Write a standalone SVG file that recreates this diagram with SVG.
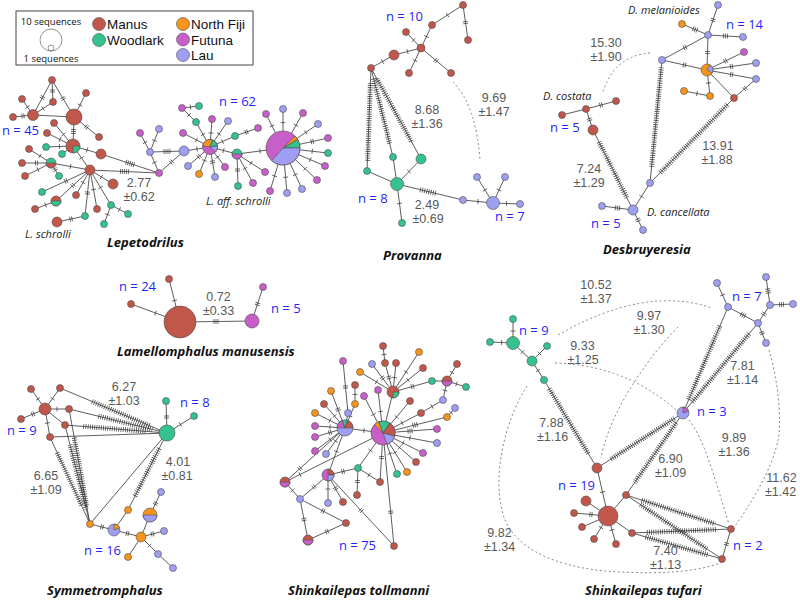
<svg xmlns="http://www.w3.org/2000/svg" width="800" height="602" viewBox="0 0 800 602">
<style>
.e{fill:none;stroke:#333;stroke-width:0.8}
.t1{marker-mid:url(#m1)}.t2{marker-mid:url(#m2)}.t3{marker-mid:url(#m3)}.t4{marker-mid:url(#m4)}.t5{marker-mid:url(#m5)}
.h{fill:none;stroke:#333;stroke-width:5;stroke-dasharray:0.7 1.5}
.d{fill:none;stroke:#888;stroke-width:1;stroke-dasharray:2 2.5}
circle,.p{stroke:#4d4d4d;stroke-width:0.6}
.ma{fill:#c0574a}.wo{fill:#35c38d}.nf{fill:#f7941d}.fu{fill:#c85fc8}.la{fill:#9e9ef3}
text{font-family:"Open Sans","DejaVu Sans",sans-serif}
.n{font-size:13px;fill:#1f1fff}
.v{font-family:"Liberation Sans",Arial,sans-serif;font-size:12.5px;fill:#595959;text-anchor:middle}
.sp{font-size:13px;font-weight:bold;font-style:italic;fill:#111}
.it{font-size:11px;font-style:italic;fill:#222}
.lg{font-family:"Liberation Sans",Arial,sans-serif;font-size:13.5px;fill:#111}
.ls{font-size:9.5px;fill:#111;text-anchor:middle}
</style>
<defs>
<marker id="m1" viewBox="-5 -5 10 10" markerWidth="10" markerHeight="10" markerUnits="userSpaceOnUse" orient="auto"><path d="M0 -2.5V2.5" stroke="#333" stroke-width="0.7"/></marker>
<marker id="m2" viewBox="-5 -5 10 10" markerWidth="10" markerHeight="10" markerUnits="userSpaceOnUse" orient="auto"><path d="M-1 -2.5V2.5M1 -2.5V2.5" stroke="#333" stroke-width="0.7"/></marker>
<marker id="m3" viewBox="-5 -5 10 10" markerWidth="10" markerHeight="10" markerUnits="userSpaceOnUse" orient="auto"><path d="M-2 -2.5V2.5M0 -2.5V2.5M2 -2.5V2.5" stroke="#333" stroke-width="0.7"/></marker>
<marker id="m4" viewBox="-5 -5 10 10" markerWidth="10" markerHeight="10" markerUnits="userSpaceOnUse" orient="auto"><path d="M-3 -2.5V2.5M-1 -2.5V2.5M1 -2.5V2.5M3 -2.5V2.5" stroke="#333" stroke-width="0.7"/></marker>
<marker id="m5" viewBox="-5 -5 10 10" markerWidth="10" markerHeight="10" markerUnits="userSpaceOnUse" orient="auto"><path d="M-4 -2.5V2.5M-2 -2.5V2.5M0 -2.5V2.5M2 -2.5V2.5M4 -2.5V2.5" stroke="#333" stroke-width="0.7"/></marker>
</defs>
<rect width="800" height="602" fill="#fff"/>
<g id="legend">
<rect x="16" y="11" width="237" height="54" fill="#fff" stroke="#444" stroke-width="1"/>
<text class="ls" x="51" y="25">10 sequences</text>
<circle cx="51" cy="40" r="11" fill="none"/>
<circle cx="51" cy="48" r="3" fill="none"/>
<text class="ls" x="51" y="62">1 sequences</text>
<circle class="ma" cx="99" cy="24" r="6.5"/><text class="lg" x="107" y="29">Manus</text>
<circle class="wo" cx="99" cy="40" r="6.5"/><text class="lg" x="107" y="45">Woodlark</text>
<circle class="nf" cx="183" cy="24" r="6.5"/><text class="lg" x="191" y="29">North Fiji</text>
<circle class="fu" cx="183" cy="39.5" r="6.5"/><text class="lg" x="191" y="44.5">Futuna</text>
<circle class="la" cx="183" cy="55" r="6.5"/><text class="lg" x="191" y="60">Lau</text>
</g>
<g id="connectors">
<path class="e t2" d="M52 80L42.5 97.5L33 115"/>
<path class="e t2" d="M52 80L63 98.5L74 117"/>
<path class="e t2" d="M52 80L52.5 91L53 102"/>
<path class="e t1" d="M53 102L43 108.5L33 115"/>
<path class="e" d="M33 115L74 117"/>
<path class="e t1" d="M22 99L27.5 107L33 115"/>
<path class="e t2" d="M13 117L23 116L33 115"/>
<path class="e t1" d="M86 93L80 105L74 117"/>
<path class="e t2" d="M74 117L86.5 127L99 137"/>
<path class="e t3" d="M74 117L73.5 131.5L73 146"/>
<path class="e t1" d="M54 123L63.5 134.5L73 146"/>
<path class="e t1" d="M47 133L60 139.5L73 146"/>
<path class="e t1" d="M73 146L87 150L101 154"/>
<path class="e t1" d="M29 149L40 156L51 163"/>
<path class="e t1" d="M46 147L59.5 146.5L73 146"/>
<path class="e t1" d="M62 154L67.5 150L73 146"/>
<path class="e t1" d="M73 146L81.5 158L90 170"/>
<path class="e t2" d="M22 163L36.5 163L51 163"/>
<path class="e t1" d="M51 163L70.5 166.5L90 170"/>
<path class="e t1" d="M25 176L38 169.5L51 163"/>
<path class="e t2" d="M59 176L55 169.5L51 163"/>
<path class="e t1" d="M90 170L101.5 177L113 184"/>
<path class="e t2" d="M90 170L66 181L42 192"/>
<path class="e t1" d="M90 170L83 182.5L76 195"/>
<path class="e t2" d="M90 170L73 185.5L56 201"/>
<path class="e t1" d="M35 209L45.5 205L56 201"/>
<path class="e t2" d="M57 222L71 219L85 216"/>
<path class="e t2" d="M85 216L87.5 193L90 170"/>
<path class="e t1" d="M97 209L93.5 189.5L90 170"/>
<path class="e t1" d="M90 170L100.5 187.5L111 205"/>
<path class="e t1" d="M111 205L119.5 209.5L128 214"/>
<path class="e t1" d="M111 205L107.5 214.5L104 224"/>
<path class="e t5" d="M101 154L130 163.5L159 173"/>
<path class="e t5" d="M90 170L124.5 171.5L159 173"/>
<path class="e t1" d="M159 173L154.5 162.5L150 152"/>
<path class="e t1" d="M150 152L145 142.5L140 133"/>
<path class="e t1" d="M150 152L154.5 140.5L159 129"/>
<path class="e t4" d="M150 152L167 151.5L184 151"/>
<path class="e t2" d="M159 173L171.5 162L184 151"/>
<path class="e t1" d="M184 151L197 149L210 147"/>
<path class="e t1" d="M183 133L196.5 140L210 147"/>
<path class="e t1" d="M182 108L189 115L196 122"/>
<path class="e t1" d="M182 108L190.5 107L199 106"/>
<path class="e t1" d="M196 122L203 134.5L210 147"/>
<path class="e t1" d="M212 119L211 133L210 147"/>
<path class="e t1" d="M228 121L219 134L210 147"/>
<path class="e t2" d="M188 166L199 156.5L210 147"/>
<path class="e t1" d="M199 174L204.5 160.5L210 147"/>
<path class="e t2" d="M215 177L212.5 162L210 147"/>
<path class="e t1" d="M225 167L217.5 157L210 147"/>
<path class="e t1" d="M210 147L223.5 150.5L237 154"/>
<path class="e t1" d="M235 136L222.5 141.5L210 147"/>
<path class="e t2" d="M235 136L246.5 132L258 128"/>
<path class="e t2" d="M237 154L237.5 170L238 186"/>
<path class="e t1" d="M237 154L245 168.5L253 183"/>
<path class="e t1" d="M237 154L251 163L265 172"/>
<path class="e t1" d="M237 154L260 151L283 148"/>
<path class="e t1" d="M283 148L271.95 125.9L266 114"/>
<path class="e t1" d="M283 148L283 122.65L283 109"/>
<path class="e t1" d="M283 148L296 125.25L303 113"/>
<path class="e t1" d="M283 148L305.75 132.4L318 124"/>
<path class="e t2" d="M283 148L312.25 141.5L328 138"/>
<path class="e t1" d="M283 148L312.25 151.25L328 153"/>
<path class="e t1" d="M283 148L310.3 159.7L325 166"/>
<path class="e t1" d="M283 148L305.1 168.8L317 180"/>
<path class="e t1" d="M283 148L295.35 174.65L302 189"/>
<path class="e t1" d="M283 148L285.6 177.25L287 193"/>
<path class="e t1" d="M283 148L274.55 175.95L270 191"/>
<path class="e t1" d="M371 68L382.5 61.5L394 55"/>
<path class="e t1" d="M394 55L407.5 51.5L421 48"/>
<path class="e t1" d="M421 48L426.5 36.5L432 25"/>
<path class="e t1" d="M432 25L447.5 15L463 5"/>
<path class="e t2" d="M463 5L465.5 22.5L468 40"/>
<path class="e t1" d="M421 48L413.5 40L406 32"/>
<path class="e t1" d="M421 48L415 60.5L409 73"/>
<path class="e t2" d="M421 48L436 60.5L451 73"/>
<path class="e" d="M371 68L367 171"/><path class="h" d="M370.4 83L367.6 162"/>
<path class="e" d="M371 68L393 157"/><path class="h" d="M373.6 78.7L389.7 143.7"/>
<path class="e" d="M371 68L421 159"/><path class="h" d="M377 78.9L412 142.6"/>
<path class="e" d="M367 171L397 184"/>
<path class="e" d="M393 157L397 184"/>
<path class="e t1" d="M421 159L409 171.5L397 184"/>
<path class="e t1" d="M397 184L399.5 203.5L402 223"/>
<path class="e" d="M397 184L463 200"/><path class="h" d="M420.1 189.6L436.6 193.6"/>
<path class="e t1" d="M463 200L478 201.5L493 203"/>
<path class="e t1" d="M493 203L485 190L477 177"/>
<path class="e t1" d="M493 203L499 190L505 177"/>
<path class="e t1" d="M493 203L506.5 203.5L520 204"/>
<path class="d" d="M453 82Q476 105 480 160"/>
<path class="e" d="M562 115L586 109"/>
<path class="e t2" d="M586 109L601 105L616 101"/>
<path class="e t2" d="M586 109L589.5 119.5L593 130"/>
<path class="e" d="M593 130L633 210"/><path class="h" d="M599 142L627 198"/>
<path class="e t1" d="M650 183L641.5 196.5L633 210"/>
<path class="e t3" d="M633 210L617.5 208L602 206"/>
<path class="e t2" d="M633 210L638 220L643 230"/>
<path class="e" d="M662 60L650 183"/><path class="h" d="M661.3 67.4L651.6 167"/>
<path class="e" d="M734 98L650 183"/><path class="h" d="M727.3 104.8L660.1 172.8"/>
<path class="e t2" d="M662 60L685 47.5L708 35"/>
<path class="e t3" d="M682 24L695 29.5L708 35"/>
<path class="e t2" d="M718 5L713 20L708 35"/>
<path class="e t3" d="M708 35L725.5 36L743 37"/>
<path class="e t2" d="M708 35L707.5 52.5L707 70"/>
<path class="e t2" d="M662 60L684.5 65L707 70"/>
<path class="e t2" d="M707 70L725.5 61L744 52"/>
<path class="e t2" d="M707 70L731.5 66.5L756 63"/>
<path class="e t2" d="M707 70L731.5 74.5L756 79"/>
<path class="e t1" d="M707 70L708.5 83L710 96"/>
<path class="e t1" d="M684 91L697 93.5L710 96"/>
<path class="e" d="M707 70L734 98"/>
<path class="e t2" d="M756 79L745 88.5L734 98"/>
<path class="d" d="M650 53Q614 56 603 92"/>
<path class="e t1" d="M131 304L155.5 313L180 322"/>
<path class="e t1" d="M169 279L174.5 300.5L180 322"/>
<path class="e t3" d="M180 322L216 321.5L252 321"/>
<path class="e t2" d="M252 321L257.5 304L263 287"/>
<path class="e t1" d="M31 389L38 399L45 409"/>
<path class="e t1" d="M60 388L52.5 398.5L45 409"/>
<path class="e t2" d="M21 419L33 414L45 409"/>
<path class="e t1" d="M45 409L57 409L69 409"/>
<path class="e" d="M45 409L65 425"/>
<path class="e t1" d="M45 409L47.5 423L50 437"/>
<path class="e" d="M60 388L167 433"/><path class="h" d="M92.1 401.5L150.95 426.25"/>
<path class="e" d="M69 409L167 433"/><path class="h" d="M98.4 416.2L152.3 429.4"/>
<path class="e" d="M65 425L167 433"/><path class="h" d="M83.4 426.4L146.6 431.4"/>
<path class="e" d="M50 437L167 433"/>
<path class="e" d="M50 437L90 524"/><path class="h" d="M57.2 452.7L82 506.6"/>
<path class="e" d="M69 409L90 524"/><path class="h" d="M74.25 437.75L86.85 506.75"/>
<path class="e" d="M65 425L90 524"/><path class="h" d="M70 444.8L86.25 509.15"/>
<path class="e" d="M167 433L90 524"/>
<path class="e" d="M167 433L128 510"/><path class="h" d="M159.2 448.4L135 496.1"/>
<path class="e t1" d="M167 433L180.5 424.5L194 416"/>
<path class="e t2" d="M167 433L166.5 417L166 401"/>
<path class="e t2" d="M90 524L102 527L114 530"/>
<path class="e" d="M128 510L114 530"/>
<path class="e t2" d="M114 530L127.5 533.5L141 537"/>
<path class="e" d="M141 537L150 515"/>
<path class="e t2" d="M150 515L155.5 503.5L161 492"/>
<path class="e t2" d="M141 537L152.5 534L164 531"/>
<path class="e" d="M141 537L128 557"/>
<path class="e t1" d="M141 537L149.5 545.5L158 554"/>
<path class="e" d="M158 554L173 568"/>
<path class="e t1" d="M383 433L364 430.5L345 428"/>
<path class="e" d="M383 433L393 392"/>
<path class="e t1" d="M383 433L396.5 417L410 401"/>
<path class="e t1" d="M383 433L402 423L421 413"/>
<path class="e t3" d="M383 433L410 431L437 429"/>
<path class="e t1" d="M383 433L410 438L437 443"/>
<path class="e t1" d="M383 433L403 443L423 453"/>
<path class="e t1" d="M383 433L399.5 447.5L416 462"/>
<path class="e t1" d="M383 433L395 452.5L407 472"/>
<path class="e t1" d="M383 433L390 453.5L397 474"/>
<path class="e t2" d="M383 433L381.5 457.5L380 482"/>
<path class="e t2" d="M383 433L390.7 512.1L394 546"/>
<path class="e t1" d="M383 433L370.5 450.5L358 468"/>
<path class="e t1" d="M383 433L300 474.5L285 482"/>
<path class="e t2" d="M328 475L343 471.5L358 468"/>
<path class="e t1" d="M328 475L336.5 451.5L345 428"/>
<path class="e t2" d="M358 468L357.5 481.5L357 495"/>
<path class="e t1" d="M358 468L369 475L380 482"/>
<path class="e t2" d="M328 475L361 510.5L394 546"/>
<path class="e t1" d="M328 475L328 489L328 503"/>
<path class="e t2" d="M328 475L335.5 488.5L343 502"/>
<path class="e t2" d="M328 475L314 487L300 499"/>
<path class="e t2" d="M285 482L300 468.5L345 428"/>
<path class="e t1" d="M300 499L292.5 490.5L285 482"/>
<path class="e t2" d="M300 499L323 511L346 523"/>
<path class="e t2" d="M300 499L304 519.5L308 540"/>
<path class="e t2" d="M308 540L327 531.5L346 523"/>
<path class="e t1" d="M345 428L334.5 416L324 404"/>
<path class="e t1" d="M345 428L330 420.5L315 413"/>
<path class="e t1" d="M345 428L350 416L355 404"/>
<path class="e" d="M345 428L348 413"/>
<path class="e t1" d="M345 428L330 427L315 426"/>
<path class="e t2" d="M345 428L330 432.5L315 437"/>
<path class="e t1" d="M345 428L330 439.5L315 451"/>
<path class="e t1" d="M345 428L335.5 441L326 454"/>
<path class="e t2" d="M343 361L345.5 387L348 413"/>
<path class="e t2" d="M345 428L338 409.5L331 391"/>
<path class="e t1" d="M355 385L355 394.5L355 404"/>
<path class="e t1" d="M364 396L373.5 414.5L383 433"/>
<path class="e t1" d="M378 390L380.5 411.5L383 433"/>
<path class="e t1" d="M383 346L384 354.5L385 363"/>
<path class="e t2" d="M385 363L389 377.5L393 392"/>
<path class="e t1" d="M396 363L394.5 377.5L393 392"/>
<path class="e t2" d="M372 364L382.5 378L393 392"/>
<path class="e t1" d="M360 372L376.5 382L393 392"/>
<path class="e t1" d="M419 352L406 372L393 392"/>
<path class="e t1" d="M423 368L408 380L393 392"/>
<path class="e t2" d="M432 381L412.5 386.5L393 392"/>
<path class="e" d="M447 381L432 381"/>
<path class="e t1" d="M447 381L452 372.5L457 364"/>
<path class="e t1" d="M447 381L456.5 384L466 387"/>
<path class="e t1" d="M447 381L445 390.5L443 400"/>
<path class="e t1" d="M443 400L432 406.5L421 413"/>
<path class="e t1" d="M455 408L451 412.5L447 417"/>
<path class="e t3" d="M447 417L415 425L383 433"/>
<path class="e t1" d="M513 319L513 331L513 343"/>
<path class="e t1" d="M490 342L501.5 342.5L513 343"/>
<path class="e t1" d="M513 343L522.5 352L532 361"/>
<path class="e t1" d="M547 346L539.5 353.5L532 361"/>
<path class="e t1" d="M532 361L538 370.5L544 380"/>
<path class="e" d="M544 380L597 468"/><path class="h" d="M549.3 388.8L589 454.8"/>
<path class="e t1" d="M597 468L602.5 492L608 516"/>
<path class="e" d="M608 516L586 501"/>
<path class="e t2" d="M608 516L591 514.5L574 513"/>
<path class="e" d="M608 516L582 527"/>
<path class="e t1" d="M608 516L601 527.5L594 539"/>
<path class="e t1" d="M608 516L612 530L616 544"/>
<path class="e" d="M608 516L632 533"/>
<path class="e" d="M608 516L626 495"/>
<path class="e" d="M683 413L597 468"/><path class="h" d="M674.4 418.5L609.9 459.75"/>
<path class="e" d="M683 413L626 495"/><path class="h" d="M676.2 422.8L634.6 482.7"/>
<path class="e" d="M626 495L731 529"/><path class="h" d="M641.75 500.1L715.25 523.9"/>
<path class="e" d="M626 495L722 559"/><path class="h" d="M640.4 504.6L707.6 549.4"/>
<path class="e" d="M632 533L731 529"/><path class="h" d="M646.85 532.4L716.15 529.6"/>
<path class="e" d="M632 533L722 559"/><path class="h" d="M645.5 536.9L708.5 555.1"/>
<path class="e t2" d="M731 529L726.5 544L722 559"/>
<path class="e t1" d="M717 283L722.5 295L728 307"/>
<path class="e t3" d="M728 307L743 315L758 323"/>
<path class="e t2" d="M758 323L764 314L770 305"/>
<path class="e t3" d="M770 305L768 291L766 277"/>
<path class="e t3" d="M770 305L781.5 304.5L793 304"/>
<path class="e t2" d="M758 323L762 333L766 343"/>
<path class="e" d="M728 307L683 413"/><path class="h" d="M719.9 326.1L688.4 400.3"/>
<path class="e" d="M758 323L683 413"/><path class="h" d="M749 333.8L692 402.2"/>
<path class="d" d="M558 335Q645 285 712 308"/>
<path class="d" d="M678 327C650 355 610 410 601 458"/>
<path class="d" d="M555 363Q625 365 676 410"/>
<path class="d" d="M527 386C505 420 490 480 505 520C520 555 570 570 620 572C660 574 700 572 722 562"/>
<path class="d" d="M769 350C778 380 782 420 778 440C772 470 750 505 735 526"/>
<path class="d" d="M689 420C705 440 715 480 729 524"/>
</g>
<g id="nodes">
<g id="lep1"><circle class="ma" cx="74" cy="117" r="8"/></g>
<g id="lep2"><circle class="ma" cx="52" cy="80" r="3.5"/></g>
<g id="lep3"><circle class="ma" cx="53" cy="102" r="3.5"/></g>
<g id="lep4"><circle class="ma" cx="33" cy="115" r="5.5"/></g>
<g id="lep5"><circle class="ma" cx="22" cy="99" r="3.5"/></g>
<g id="lep6"><circle class="ma" cx="13" cy="117" r="3.5"/></g>
<g id="lep7"><circle class="ma" cx="86" cy="93" r="3.5"/></g>
<g id="lep8"><circle class="ma" cx="99" cy="137" r="3.5"/></g>
<g id="lep9"><circle class="ma" cx="54" cy="123" r="3.5"/></g>
<g id="lep10"><circle class="ma" cx="47" cy="133" r="3.5"/></g>
<g id="lep11"><circle class="ma" cx="73" cy="146" r="7"/><path class="p wo" d="M73 146L80 146A7 7 0 0 1 73 153Z"/></g>
<g id="lep12"><circle class="ma" cx="101" cy="154" r="5"/></g>
<g id="lep13"><circle class="ma" cx="29" cy="149" r="3.5"/></g>
<g id="lep14"><circle class="wo" cx="46" cy="147" r="3.5"/></g>
<g id="lep15"><circle class="wo" cx="62" cy="154" r="3.5"/></g>
<g id="lep16"><circle class="ma" cx="22" cy="163" r="3.5"/></g>
<g id="lep17"><circle class="wo" cx="51" cy="163" r="5"/><path class="p ma" d="M46 163A5 5 0 0 0 56 163Z"/></g>
<g id="lep18"><circle class="ma" cx="25" cy="176" r="3.5"/></g>
<g id="lep19"><circle class="wo" cx="59" cy="176" r="3.5"/></g>
<g id="lep20"><circle class="ma" cx="90" cy="170" r="5"/></g>
<g id="lep21"><circle class="ma" cx="113" cy="184" r="5"/></g>
<g id="lep22"><circle class="wo" cx="42" cy="192" r="3.5"/></g>
<g id="lep23"><circle class="ma" cx="76" cy="195" r="3.5"/></g>
<g id="lep25"><circle class="ma" cx="56" cy="201" r="5"/><path class="p wo" d="M51 201A5 5 0 0 0 61 201Z"/></g>
<g id="lep26"><circle class="ma" cx="35" cy="209" r="3.5"/></g>
<g id="lep27"><circle class="ma" cx="57" cy="222" r="5"/></g>
<g id="lep28"><circle class="wo" cx="85" cy="216" r="3.5"/></g>
<g id="lep29"><circle class="ma" cx="97" cy="209" r="3.5"/></g>
<g id="lep30"><circle class="wo" cx="111" cy="205" r="3.5"/></g>
<g id="lep31"><circle class="wo" cx="128" cy="214" r="3.5"/></g>
<g id="lep32"><circle class="wo" cx="104" cy="224" r="3.5"/></g>
<g id="lepr1"><circle class="fu" cx="159" cy="173" r="3.5"/></g>
<g id="lepr2"><circle class="la" cx="150" cy="152" r="3.5"/></g>
<g id="lepr3"><circle class="fu" cx="140" cy="133" r="3.5"/></g>
<g id="lepr4"><circle class="la" cx="159" cy="129" r="3.5"/></g>
<g id="lepr5"><circle class="la" cx="184" cy="151" r="5"/></g>
<g id="lepr6"><circle class="fu" cx="183" cy="133" r="3.5"/></g>
<g id="lepr7"><circle class="fu" cx="182" cy="108" r="3.5"/></g>
<g id="lepr8"><circle class="wo" cx="199" cy="106" r="3.5"/></g>
<g id="lepr9"><circle class="wo" cx="196" cy="122" r="3.5"/></g>
<g id="lepr10"><circle class="la" cx="188" cy="166" r="3.5"/></g>
<g id="lepr11"><circle class="nf" cx="199" cy="174" r="3.5"/></g>
<g id="lepr12"><circle class="fu" cx="212" cy="119" r="3.5"/></g>
<g id="lepr13"><circle class="la" cx="228" cy="121" r="3.5"/></g>
<g id="lepr14"><circle class="wo" cx="235" cy="136" r="3.5"/></g>
<g id="lepr15"><circle class="fu" cx="258" cy="128" r="3.5"/></g>
<g id="lepr16"><circle class="la" cx="215" cy="177" r="3.5"/></g>
<g id="lepr17"><circle class="fu" cx="225" cy="167" r="3.5"/></g>
<g id="lepr18"><circle class="wo" cx="238" cy="186" r="3.5"/></g>
<g id="lepr19"><circle class="fu" cx="253" cy="183" r="3.5"/></g>
<g id="lepr20"><circle class="fu" cx="265" cy="172" r="3.5"/></g>
<g id="lepM1"><circle class="fu" cx="210" cy="147" r="7.5"/><path class="p nf" d="M210 147L202.61 145.7A7.5 7.5 0 0 1 212.57 139.95Z"/><path class="p wo" d="M210 147L212.57 139.95A7.5 7.5 0 0 1 217.39 145.7Z"/><path class="p la" d="M210 147L217.39 145.7A7.5 7.5 0 0 1 215.75 151.82Z"/></g>
<g id="lepM2"><circle class="wo" cx="237" cy="154" r="5"/><path class="p fu" d="M232 154A5 5 0 0 0 242 154Z"/></g>
<g id="lepS1"><circle class="fu" cx="266" cy="114" r="3.5"/></g>
<g id="lepS2"><circle class="la" cx="283" cy="109" r="3.5"/></g>
<g id="lepS3"><circle class="fu" cx="303" cy="113" r="3.5"/></g>
<g id="lepS4"><circle class="la" cx="318" cy="124" r="3.5"/></g>
<g id="lepS5"><circle class="fu" cx="328" cy="138" r="3.5"/></g>
<g id="lepS6"><circle class="wo" cx="328" cy="153" r="3.5"/></g>
<g id="lepS7"><circle class="fu" cx="325" cy="166" r="3.5"/></g>
<g id="lepS8"><circle class="fu" cx="317" cy="180" r="3.5"/></g>
<g id="lepS9"><circle class="la" cx="302" cy="189" r="3.5"/></g>
<g id="lepS10"><circle class="la" cx="287" cy="193" r="3.5"/></g>
<g id="lepS11"><circle class="fu" cx="270" cy="191" r="3.5"/></g>
<g id="lepM3"><circle class="fu" cx="283" cy="148" r="17"/><path class="p nf" d="M283 148L295.02 135.98A17 17 0 0 1 297.72 139.5Z"/><path class="p wo" d="M283 148L297.72 139.5A17 17 0 0 1 300 148Z"/><path class="p la" d="M283 148L300 148A17 17 0 0 1 271.63 160.63Z"/></g>
<g id="pro1"><circle class="ma" cx="394" cy="55" r="5"/></g>
<g id="pro2"><circle class="ma" cx="371" cy="68" r="3.5"/></g>
<g id="pro3"><circle class="ma" cx="421" cy="48" r="4"/></g>
<g id="pro4"><circle class="ma" cx="432" cy="25" r="3.5"/></g>
<g id="pro5"><circle class="ma" cx="463" cy="5" r="3.5"/></g>
<g id="pro6"><circle class="ma" cx="468" cy="40" r="3.5"/></g>
<g id="pro7"><circle class="ma" cx="406" cy="32" r="3.5"/></g>
<g id="pro8"><circle class="ma" cx="409" cy="73" r="3.5"/></g>
<g id="pro9"><circle class="ma" cx="451" cy="73" r="3.5"/></g>
<g id="pro10"><circle class="wo" cx="367" cy="171" r="3.5"/></g>
<g id="pro11"><circle class="wo" cx="393" cy="157" r="3.5"/></g>
<g id="pro12"><circle class="wo" cx="421" cy="159" r="5"/></g>
<g id="pro13"><circle class="wo" cx="397" cy="184" r="6.5"/></g>
<g id="pro14"><circle class="wo" cx="402" cy="223" r="3.5"/></g>
<g id="pro15"><circle class="la" cx="463" cy="200" r="3.5"/></g>
<g id="pro16"><circle class="la" cx="493" cy="203" r="6.5"/></g>
<g id="pro17"><circle class="la" cx="477" cy="177" r="3.5"/></g>
<g id="pro18"><circle class="la" cx="505" cy="177" r="3.5"/></g>
<g id="pro19"><circle class="la" cx="520" cy="204" r="3.5"/></g>
<g id="des1"><circle class="ma" cx="562" cy="115" r="3.5"/></g>
<g id="des2"><circle class="ma" cx="586" cy="109" r="3.5"/></g>
<g id="des3"><circle class="ma" cx="616" cy="101" r="3.5"/></g>
<g id="des4"><circle class="ma" cx="593" cy="130" r="5"/></g>
<g id="des5"><circle class="la" cx="650" cy="183" r="3.5"/></g>
<g id="des6"><circle class="la" cx="633" cy="210" r="5"/></g>
<g id="des7"><circle class="la" cx="602" cy="206" r="3.5"/></g>
<g id="des8"><circle class="la" cx="643" cy="230" r="3.5"/></g>
<g id="des9"><circle class="la" cx="662" cy="60" r="3.5"/></g>
<g id="des10"><circle class="la" cx="718" cy="5" r="3.5"/></g>
<g id="des11"><circle class="nf" cx="682" cy="24" r="3.5"/></g>
<g id="des12"><circle class="la" cx="708" cy="35" r="3.5"/></g>
<g id="des13"><circle class="la" cx="743" cy="37" r="3.5"/></g>
<g id="des14"><circle class="fu" cx="744" cy="52" r="3.5"/></g>
<g id="des15"><circle class="la" cx="756" cy="63" r="3.5"/></g>
<g id="des16"><circle class="la" cx="756" cy="79" r="3.5"/></g>
<g id="des17"><circle class="nf" cx="707" cy="70" r="6"/><path class="p la" d="M707 70L710 64.8A6 6 0 0 1 712.2 73Z"/></g>
<g id="des18"><circle class="nf" cx="684" cy="91" r="3.5"/></g>
<g id="des19"><circle class="nf" cx="710" cy="96" r="3.5"/></g>
<g id="des20"><circle class="ma" cx="734" cy="98" r="3.5"/></g>
<g id="lam1"><circle class="ma" cx="169" cy="279" r="3.5"/></g>
<g id="lam2"><circle class="ma" cx="131" cy="304" r="3.5"/></g>
<g id="lam3"><circle class="ma" cx="180" cy="322" r="16"/></g>
<g id="lam4"><circle class="fu" cx="252" cy="321" r="7"/></g>
<g id="lam5"><circle class="fu" cx="263" cy="287" r="3.5"/></g>
<g id="sym1"><circle class="ma" cx="31" cy="389" r="3.5"/></g>
<g id="sym2"><circle class="ma" cx="60" cy="388" r="3.5"/></g>
<g id="sym3"><circle class="ma" cx="45" cy="409" r="6"/></g>
<g id="sym4"><circle class="ma" cx="21" cy="419" r="3.5"/></g>
<g id="sym5"><circle class="ma" cx="69" cy="409" r="3.5"/></g>
<g id="sym6"><circle class="ma" cx="65" cy="425" r="3.5"/></g>
<g id="sym7"><circle class="ma" cx="50" cy="437" r="3.5"/></g>
<g id="sym8"><circle class="wo" cx="167" cy="433" r="8"/></g>
<g id="sym9"><circle class="wo" cx="194" cy="416" r="3.5"/></g>
<g id="sym10"><circle class="wo" cx="166" cy="401" r="3.5"/></g>
<g id="sym11"><circle class="nf" cx="90" cy="524" r="3.5"/></g>
<g id="sym12"><circle class="nf" cx="128" cy="510" r="3.5"/></g>
<g id="sym13"><circle class="la" cx="114" cy="530" r="6"/><path class="p nf" d="M114 530L114 524A6 6 0 0 1 119.64 527.95Z"/></g>
<g id="sym14"><circle class="nf" cx="150" cy="515" r="7"/><path class="p la" d="M143 515A7 7 0 0 0 157 515Z"/></g>
<g id="sym15"><circle class="la" cx="161" cy="492" r="3.5"/></g>
<g id="sym16"><circle class="nf" cx="141" cy="537" r="5"/></g>
<g id="sym17"><circle class="la" cx="164" cy="531" r="3.5"/></g>
<g id="sym18"><circle class="nf" cx="128" cy="557" r="3.5"/></g>
<g id="sym19"><circle class="la" cx="158" cy="554" r="3.5"/></g>
<g id="sym20"><circle class="la" cx="173" cy="568" r="3.5"/></g>
<g id="tol1"><circle class="ma" cx="383" cy="346" r="3.5"/></g>
<g id="tol2"><circle class="fu" cx="343" cy="361" r="3.5"/></g>
<g id="tol3"><circle class="la" cx="372" cy="364" r="3.5"/></g>
<g id="tol4"><circle class="ma" cx="385" cy="363" r="3.5"/></g>
<g id="tol5"><circle class="ma" cx="396" cy="363" r="3.5"/></g>
<g id="tol6"><circle class="nf" cx="360" cy="372" r="3.5"/></g>
<g id="tol7"><circle class="ma" cx="355" cy="385" r="3.5"/></g>
<g id="tol8"><circle class="fu" cx="378" cy="390" r="3.5"/></g>
<g id="tol9"><circle class="ma" cx="393" cy="392" r="6"/><path class="p wo" d="M393 392L399 392A6 6 0 0 1 393 398Z"/></g>
<g id="tol10"><circle class="nf" cx="331" cy="391" r="3.5"/></g>
<g id="tol11"><circle class="fu" cx="364" cy="396" r="3.5"/></g>
<g id="tol12"><circle class="ma" cx="324" cy="404" r="3.5"/></g>
<g id="tol13"><circle class="nf" cx="315" cy="413" r="3.5"/></g>
<g id="tol14"><circle class="nf" cx="355" cy="404" r="3.5"/></g>
<g id="tol15"><circle class="la" cx="348" cy="413" r="3.5"/></g>
<g id="tol16"><circle class="la" cx="345" cy="428" r="8"/><path class="p fu" d="M345 428L337 428A8 8 0 0 1 342.26 420.48Z"/><path class="p wo" d="M345 428L342.26 420.48A8 8 0 0 1 347.74 420.48Z"/><path class="p ma" d="M345 428L347.74 420.48A8 8 0 0 1 353 428Z"/></g>
<g id="tol17"><circle class="fu" cx="315" cy="426" r="3.5"/></g>
<g id="tol18"><circle class="fu" cx="315" cy="437" r="3.5"/></g>
<g id="tol19"><circle class="fu" cx="315" cy="451" r="3.5"/></g>
<g id="tol20"><circle class="la" cx="326" cy="454" r="3.5"/></g>
<g id="tol21"><circle class="fu" cx="383" cy="433" r="12"/><path class="p nf" d="M383 433L374.51 424.51A12 12 0 0 1 378.9 421.72Z"/><path class="p wo" d="M383 433L378.9 421.72A12 12 0 0 1 389.88 423.17Z"/><path class="p ma" d="M383 433L389.88 423.17A12 12 0 0 1 394.59 436.11Z"/><path class="p la" d="M383 433L394.59 436.11A12 12 0 0 1 387.1 444.28Z"/></g>
<g id="tol22"><circle class="wo" cx="397" cy="474" r="3.5"/></g>
<g id="tol23"><circle class="wo" cx="358" cy="468" r="3.5"/></g>
<g id="tol24"><circle class="fu" cx="328" cy="475" r="6"/><path class="p ma" d="M328 475L328 469A6 6 0 0 1 334 475Z"/><path class="p la" d="M328 475L334 475A6 6 0 0 1 328 481Z"/></g>
<g id="tol25"><circle class="ma" cx="380" cy="482" r="3.5"/></g>
<g id="tol26"><circle class="ma" cx="357" cy="495" r="3.5"/></g>
<g id="tol27"><circle class="la" cx="328" cy="503" r="3.5"/></g>
<g id="tol28"><circle class="ma" cx="343" cy="502" r="3.5"/></g>
<g id="tol29"><circle class="ma" cx="285" cy="482" r="5"/><path class="p fu" d="M280 482A5 5 0 0 0 290 482Z"/></g>
<g id="tol30"><circle class="la" cx="300" cy="499" r="3.5"/></g>
<g id="tol31"><circle class="ma" cx="346" cy="523" r="3.5"/></g>
<g id="tol32"><circle class="ma" cx="308" cy="540" r="5"/><path class="p fu" d="M303 540A5 5 0 0 0 313 540Z"/></g>
<g id="tol33"><circle class="ma" cx="394" cy="546" r="3.5"/></g>
<g id="tol34"><circle class="ma" cx="410" cy="401" r="3.5"/></g>
<g id="tol35"><circle class="la" cx="443" cy="400" r="3.5"/></g>
<g id="tol36"><circle class="la" cx="455" cy="408" r="3.5"/></g>
<g id="tol37"><circle class="ma" cx="421" cy="413" r="3.5"/></g>
<g id="tol38"><circle class="nf" cx="447" cy="417" r="3.5"/></g>
<g id="tol39"><circle class="fu" cx="437" cy="429" r="3.5"/></g>
<g id="tol40"><circle class="la" cx="437" cy="443" r="3.5"/></g>
<g id="tol41"><circle class="fu" cx="423" cy="453" r="3.5"/></g>
<g id="tol42"><circle class="ma" cx="416" cy="462" r="3.5"/></g>
<g id="tol43"><circle class="nf" cx="407" cy="472" r="3.5"/></g>
<g id="tol44"><circle class="nf" cx="419" cy="352" r="3.5"/></g>
<g id="tol45"><circle class="ma" cx="457" cy="364" r="3.5"/></g>
<g id="tol46"><circle class="ma" cx="423" cy="368" r="3.5"/></g>
<g id="tol47"><circle class="wo" cx="432" cy="381" r="3.5"/></g>
<g id="tol48"><circle class="ma" cx="447" cy="381" r="5"/><path class="p fu" d="M442 381A5 5 0 0 0 452 381Z"/></g>
<g id="tol49"><circle class="wo" cx="466" cy="387" r="3.5"/></g>
<g id="tuf1"><circle class="wo" cx="513" cy="319" r="3.5"/></g>
<g id="tuf2"><circle class="wo" cx="490" cy="342" r="3.5"/></g>
<g id="tuf3"><circle class="wo" cx="513" cy="343" r="6.5"/></g>
<g id="tuf4"><circle class="wo" cx="547" cy="346" r="3.5"/></g>
<g id="tuf5"><circle class="wo" cx="532" cy="361" r="5"/></g>
<g id="tuf6"><circle class="wo" cx="544" cy="380" r="3.5"/></g>
<g id="tuf7"><circle class="ma" cx="597" cy="468" r="5"/></g>
<g id="tuf8"><circle class="ma" cx="586" cy="501" r="5"/></g>
<g id="tuf9"><circle class="ma" cx="574" cy="513" r="3.5"/></g>
<g id="tuf10"><circle class="ma" cx="582" cy="527" r="3.5"/></g>
<g id="tuf11"><circle class="ma" cx="594" cy="539" r="3.5"/></g>
<g id="tuf12"><circle class="ma" cx="608" cy="516" r="10"/></g>
<g id="tuf13"><circle class="ma" cx="626" cy="495" r="3.5"/></g>
<g id="tuf14"><circle class="ma" cx="632" cy="533" r="3.5"/></g>
<g id="tuf15"><circle class="ma" cx="616" cy="544" r="3.5"/></g>
<g id="tuf16"><circle class="ma" cx="731" cy="529" r="3.5"/></g>
<g id="tuf17"><circle class="ma" cx="722" cy="559" r="3.5"/></g>
<g id="tuf18"><circle class="la" cx="683" cy="413" r="6"/><path class="p fu" d="M683 413L683 407A6 6 0 0 1 688.64 410.95Z"/></g>
<g id="tuf19"><circle class="la" cx="717" cy="283" r="3.5"/></g>
<g id="tuf20"><circle class="la" cx="728" cy="307" r="3.5"/></g>
<g id="tuf21"><circle class="la" cx="766" cy="277" r="3.5"/></g>
<g id="tuf22"><circle class="la" cx="770" cy="305" r="3.5"/></g>
<g id="tuf23"><circle class="la" cx="793" cy="304" r="3.5"/></g>
<g id="tuf24"><circle class="la" cx="758" cy="323" r="3.5"/></g>
<g id="tuf25"><circle class="la" cx="766" cy="343" r="3.5"/></g>
</g>
<g id="labels">
<text class="n" x="2" y="135">n = 45</text>
<text class="n" x="219" y="106">n = 62</text>
<text class="v"><tspan x="139" y="187">2.77</tspan><tspan x="139" y="201">±0.62</tspan></text>
<text class="it" x="25" y="238">L. schrolli</text>
<text class="it" x="206" y="205">L. aff. schrolli</text>
<text class="sp" x="107" y="247">Lepetodrilus</text>
<text class="n" x="386" y="21">n = 10</text>
<text class="v"><tspan x="427" y="114">8.68</tspan><tspan x="427" y="128">±1.36</tspan></text>
<text class="v"><tspan x="494" y="102">9.69</tspan><tspan x="494" y="116">±1.47</tspan></text>
<text class="v"><tspan x="427" y="209">2.49</tspan><tspan x="428" y="223">±0.69</tspan></text>
<text class="n" x="358" y="203">n = 8</text>
<text class="n" x="495" y="221">n = 7</text>
<text class="sp" x="383" y="260">Provanna</text>
<text class="it" x="628" y="14">D. melanioides</text>
<text class="n" x="726" y="29">n = 14</text>
<text class="v"><tspan x="606" y="47">15.30</tspan><tspan x="606" y="61">±1.90</tspan></text>
<text class="it" x="543" y="100">D. costata</text>
<text class="n" x="550" y="132">n = 5</text>
<text class="v"><tspan x="589" y="173">7.24</tspan><tspan x="589" y="187">±1.29</tspan></text>
<text class="v"><tspan x="718" y="150">13.91</tspan><tspan x="717" y="164">±1.88</tspan></text>
<text class="it" x="647" y="216">D. cancellata</text>
<text class="n" x="591" y="228">n = 5</text>
<text class="sp" x="603" y="254">Desbruyeresia</text>
<text class="n" x="119" y="291">n = 24</text>
<text class="v"><tspan x="218.5" y="301">0.72</tspan><tspan x="218.5" y="315">±0.33</tspan></text>
<text class="n" x="271" y="313">n = 5</text>
<text class="sp" x="117" y="356">Lamellomphalus manusensis</text>
<text class="v"><tspan x="124" y="391">6.27</tspan><tspan x="124" y="405">±1.03</tspan></text>
<text class="n" x="180" y="407">n = 8</text>
<text class="n" x="7" y="435">n = 9</text>
<text class="v"><tspan x="46" y="480">6.65</tspan><tspan x="46" y="494">±1.09</tspan></text>
<text class="v"><tspan x="178" y="466">4.01</tspan><tspan x="177" y="480">±0.81</tspan></text>
<text class="n" x="84" y="555">n = 16</text>
<text class="sp" x="47" y="595">Symmetromphalus</text>
<text class="n" x="339" y="550">n = 75</text>
<text class="sp" x="288" y="595">Shinkailepas tollmanni</text>
<text class="n" x="519" y="335">n = 9</text>
<text class="v"><tspan x="596" y="289">10.52</tspan><tspan x="596" y="303">±1.37</tspan></text>
<text class="v"><tspan x="649" y="320">9.97</tspan><tspan x="649" y="334">±1.30</tspan></text>
<text class="v"><tspan x="582.5" y="350">9.33</tspan><tspan x="583" y="364">±1.25</tspan></text>
<text class="n" x="732" y="301">n = 7</text>
<text class="v"><tspan x="742.5" y="370">7.81</tspan><tspan x="742.5" y="384">±1.14</tspan></text>
<text class="n" x="697" y="416">n = 3</text>
<text class="v"><tspan x="551.5" y="427">7.88</tspan><tspan x="552.5" y="441">±1.16</tspan></text>
<text class="n" x="558" y="490">n = 19</text>
<text class="v"><tspan x="670.5" y="463">6.90</tspan><tspan x="670.5" y="477">±1.09</tspan></text>
<text class="v"><tspan x="734" y="442">9.89</tspan><tspan x="734" y="456">±1.36</tspan></text>
<text class="v"><tspan x="781.5" y="482">11.62</tspan><tspan x="780.5" y="496">±1.42</tspan></text>
<text class="v"><tspan x="665.5" y="555">7.40</tspan><tspan x="665.5" y="569">±1.13</tspan></text>
<text class="v"><tspan x="499.5" y="537">9.82</tspan><tspan x="499.5" y="551">±1.34</tspan></text>
<text class="n" x="733" y="550">n = 2</text>
<text class="sp" x="585" y="595">Shinkailepas tufari</text>
</g>
</svg>
